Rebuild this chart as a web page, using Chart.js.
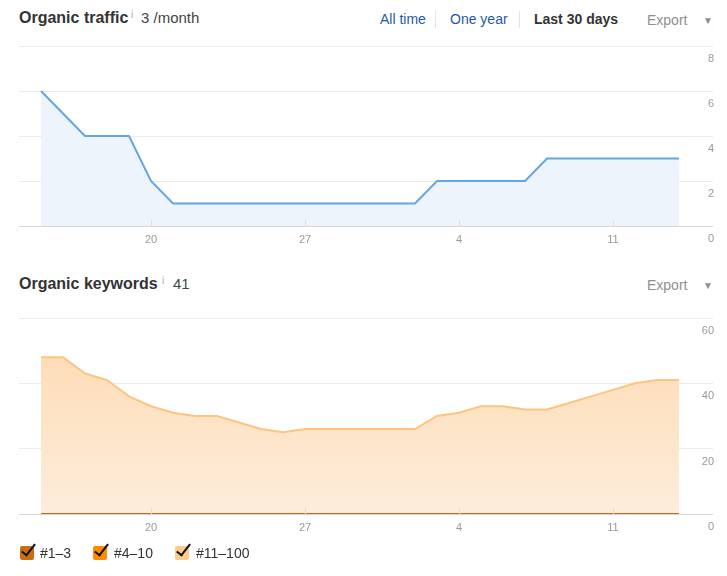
<!DOCTYPE html>
<html><head><meta charset="utf-8">
<script src="https://cdn.jsdelivr.net/npm/chart.js@4.4.1/dist/chart.umd.min.js"></script>
<style>
html,body{margin:0;padding:0;background:#fff}
body{width:727px;height:576px;position:relative;overflow:hidden;font-family:"Liberation Sans",Arial,sans-serif}
.a{position:absolute;white-space:nowrap;line-height:18px}
.title{font-weight:bold;font-size:16px;color:#333}
.info{font-size:10px;color:#aaa;line-height:10px}
.val{font-size:15px;color:#444}
.link{font-size:14px;color:#1f5aa6}
.sep{position:absolute;width:1px;background:#e3e3e3}
.cur{font-size:14px;font-weight:bold;color:#333}
.exp{font-size:14px;color:#8f8f8f}
.tri{font-size:10px;color:#8f8f8f}
.cb{position:absolute;width:14px;height:14px;border-radius:2px;top:546px}
.ck{position:absolute;width:5px;height:13px;border-right:2.5px solid #111;border-bottom:2.5px solid #111;transform:rotate(38deg);top:541px}
.lg{position:absolute;font-size:14px;color:#333;top:544px;line-height:18px}
canvas{position:absolute;left:0}
</style>
</head><body>
<div class="a title" style="left:19px;top:9px">Organic traffic</div>
<div class="a info" style="left:131px;top:10px">i</div>
<div class="a val" style="left:141px;top:9px">3 /month</div>
<div class="a link" style="left:380px;top:10px">All time</div>
<div class="sep" style="left:435px;top:11px;height:17px"></div>
<div class="a link" style="left:450px;top:10px">One year</div>
<div class="sep" style="left:519px;top:11px;height:17px"></div>
<div class="a cur" style="left:534px;top:10px">Last 30 days</div>
<div class="a exp" style="left:647px;top:11px">Export</div>
<div class="a tri" style="left:703px;top:12px">&#9660;</div>

<div class="a title" style="left:19px;top:275px">Organic keywords</div>
<div class="a info" style="left:162px;top:276px">i</div>
<div class="a val" style="left:173px;top:275px">41</div>
<div class="a exp" style="left:647px;top:276px">Export</div>
<div class="a tri" style="left:703px;top:277px">&#9660;</div>

<canvas id="c1" width="727" height="256" style="top:0;width:727px;height:256px"></canvas>
<canvas id="c2" width="727" height="274" style="top:270px;width:727px;height:274px"></canvas>

<div class="cb" style="left:20px;background:#c96f12"></div><div class="ck" style="left:25px"></div>
<div class="lg" style="left:40px">#1–3</div>
<div class="cb" style="left:93px;background:#ff8a00"></div><div class="ck" style="left:98px"></div>
<div class="lg" style="left:114px">#4–10</div>
<div class="cb" style="left:175px;background:#ffcb8c"></div><div class="ck" style="left:180px"></div>
<div class="lg" style="left:196px">#11–100</div>

<script>
// ---- data ----
const days = [15,16,17,18,19,20,21,22,23,24,25,26,27,28,29,30,1,2,3,4,5,6,7,8,9,10,11,12,13,14];
const xTickDays = [20,27,4,11];
const trafficValues = [6,5,4,4,4,2,1,1,1,1,1,1,1,1,1,1,1,1,2,2,2,2,2,3,3,3,3,3,3,3];
const kwTop3 = [0,0,0,0,0,0,0,0,0,0,0,0,0,0,0,0,0,0,0,0,0,0,0,0,0,0,0,0,0,0];
const kwTop10 = [0,0,0,0,0,0,0,0,0,0,0,0,0,0,0,0,0,0,0,0,0,0,0,0,0,0,0,0,0,0];
const kwTop100 = [48,48,43,41,36,33,31,30,30,28,26,25,26,26,26,26,26,26,30,31,33,33,32,32,34,36,38,40,41,41];
const trafficTicks = [0,2,4,6,8];
const keywordTicks = [0,20,40,60];

const toPts = arr => arr.map((v,i)=>({x:i,y:v}));
const tickIdx = xTickDays.map(d => days.indexOf(d, 5));
const FONT = {family:'"Liberation Sans", Arial, sans-serif', size:11};

const tickMarks = {
  id:'tickMarks',
  afterDraw(chart){
    const {ctx, scales:{x}, chartArea} = chart;
    ctx.save();
    ctx.strokeStyle = '#dedede';
    ctx.lineWidth = 1;
    tickIdx.forEach(i=>{
      const px = Math.round(x.getPixelForValue(i)) + 0.5;
      ctx.beginPath();
      ctx.moveTo(px, chartArea.bottom - 6);
      ctx.lineTo(px, chartArea.bottom);
      ctx.stroke();
    });
    ctx.restore();
  }
};

function makeOptions(yMax, step, ticksArr, topPad){
  return {
    responsive:false, animation:false,
    layout:{padding:{top:topPad,left:19,right:14,bottom:0}},
    plugins:{legend:{display:false}, tooltip:{enabled:false}},
    elements:{point:{radius:0}, line:{tension:0}},
    scales:{
      x:{
        type:'linear', min:-1, max:30.545,
        afterBuildTicks: s => { s.ticks = tickIdx.map(v=>({value:v})); },
        afterFit: s => { s.height = 30; },
        grid:{display:false, drawTicks:false},
        border:{display:false},
        ticks:{padding:7, color:'#999', font:FONT, maxRotation:0, autoSkip:false,
          callback:(v)=> { const k = tickIdx.indexOf(v); return k>=0 ? String(xTickDays[k]) : ''; }}
      },
      y:{
        position:'right', min:0, max:yMax,
        afterBuildTicks: s => { s.ticks = ticksArr.map(v=>({value:v})); },
        afterFit: s => { s.width = 0; },
        grid:{drawTicks:false, color: c => c.tick && c.tick.value===0 ? '#d6d6d6' : '#ebebeb', lineWidth:1},
        border:{display:false},
        ticks:{mirror:true, padding:1, labelOffset:13, color:'#999', font:FONT, stepSize:step}
      }
    }
  };
}

new Chart(document.getElementById('c1'), {
  type:'line',
  data:{datasets:[{
    label:'Organic traffic', data:toPts(trafficValues),
    borderColor:'#63a6e3', borderWidth:2, backgroundColor:'#eef4fc', fill:'origin'
  }]},
  options: makeOptions(8, 2, trafficTicks, 46),
  plugins:[tickMarks]
});

function grad(ctx){
  const ca = ctx.chart.chartArea;
  if(!ca) return '#fee0bf';
  const g = ctx.chart.ctx.createLinearGradient(0, ca.top, 0, ca.bottom);
  g.addColorStop(0, '#fed9af');
  g.addColorStop(1, '#fdeddb');
  return g;
}

new Chart(document.getElementById('c2'), {
  type:'line',
  data:{datasets:[
    {label:'#1–3', data:toPts(kwTop3), borderColor:'#c46a14', borderWidth:2, backgroundColor:'#c96f12', fill:'origin'},
    {label:'#4–10', data:toPts(kwTop10), borderColor:'#ff8a00', borderWidth:2, backgroundColor:'#ff8a00', fill:'origin'},
    {label:'#11–100', data:toPts(kwTop100), borderColor:'#fdc380', borderWidth:2, backgroundColor:grad, fill:'origin'}
  ]},
  options: makeOptions(60, 20, keywordTicks, 48),
  plugins:[tickMarks]
});
</script>
</body></html>
